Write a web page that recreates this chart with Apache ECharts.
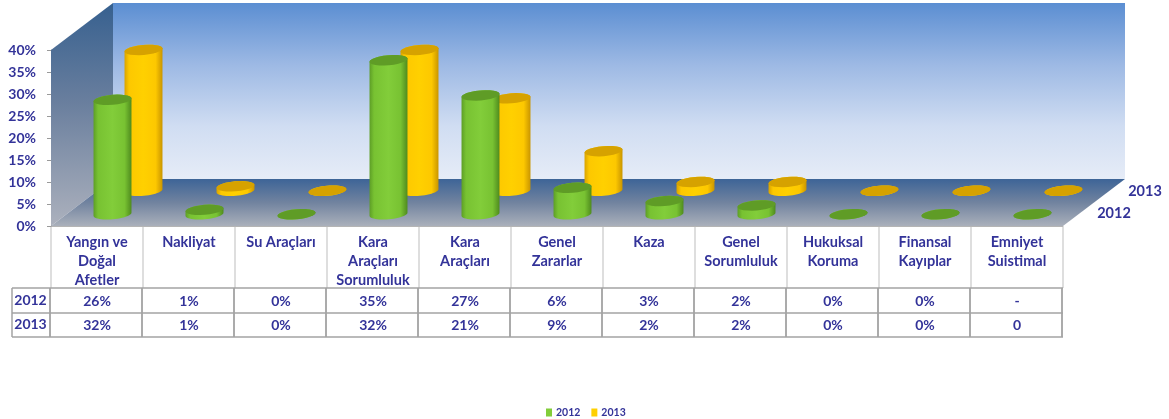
<!DOCTYPE html>
<html>
<head>
<meta charset="utf-8">
<style>
    html, body { margin: 0; padding: 0; background: #fff; }
    #chart { width: 1169px; height: 419px; }
</style>
<script src="https://cdn.jsdelivr.net/npm/echarts@6/dist/echarts.min.js"></script>
</head>
<body>
<div id="chart"></div>
<script>
    const categories = ['Yangın ve\nDoğal\nAfetler', 'Nakliyat', 'Su Araçları', 'Kara\nAraçları\nSorumluluk', 'Kara\nAraçları',
        'Genel\nZararlar', 'Kaza', 'Genel\nSorumluluk', 'Hukuksal\nKoruma', 'Finansal\nKayıplar', 'Emniyet\nSuistimal'];
    const values2012 = [26, 1, 0, 35, 27, 6, 3, 2, 0, 0, 0];
    const values2013 = [32, 1, 0, 32, 21, 9, 2, 2, 0, 0, 0];
    const table2012 = ['26%', '1%', '0%', '35%', '27%', '6%', '3%', '2%', '0%', '0%', '-'];
    const table2013 = ['32%', '1%', '0%', '32%', '21%', '9%', '2%', '2%', '0%', '0%', '0'];

    const FONT = 'Lato';
    const TEXT = '#333399';
    const DEPTH_X = 62, DEPTH_Y = 47;
    const grid = { left: 51, top: 50, width: 1012, height: 176 };

    function vertical(stops) {
        return new echarts.graphic.LinearGradient(0, 0, 0, 1, stops.map((c, i) => ({ offset: c[0], color: c[1] })));
    }

    // points of a tilted ellipse between two angles
    function arc(cx, cy, rx, ry, from, to) {
        const tilt = -5 * Math.PI / 180, pts = [];
        for (let i = 0; i <= 24; i++) {
            const t = from + (to - from) * i / 24;
            const x = rx * Math.cos(t), y = ry * Math.sin(t);
            pts.push([cx + x * Math.cos(tilt) - y * Math.sin(tilt), cy + x * Math.sin(tilt) + y * Math.cos(tilt)]);
        }
        return pts;
    }

    function cylinderSeries(name, data, depth, side, top) {
        return {
            name: name,
            type: 'custom',
            z: depth < 0.5 ? 4 : 3,
            itemStyle: { color: side[2] },
            data: data.map((v, i) => [i, v]),
            encode: { x: 0, y: 1 },
            renderItem(params, api) {
                const base = api.coord([api.value(0), 0]);
                const head = api.coord([api.value(0), api.value(1)]);
                const dx = DEPTH_X * depth, dy = DEPTH_Y * depth;
                const rx = api.size([1, 0])[0] * 0.207, ry = 5;
                const cx = base[0] + dx, by = base[1] - dy, ty = head[1] - dy;
                const body = arc(cx, by, rx, ry, 0, Math.PI).concat(arc(cx, ty, rx, ry, Math.PI, 2 * Math.PI));
                const fill = new echarts.graphic.LinearGradient(0, 0, 1, 0, [
                    { offset: 0, color: side[0] }, { offset: 0.12, color: side[1] }, { offset: 0.5, color: side[2] },
                    { offset: 0.82, color: side[1] }, { offset: 1, color: side[3] }
                ]);
                return {
                    type: 'group',
                    children: [
                        { type: 'polygon', shape: { points: body }, style: { fill: fill } },
                        { type: 'polygon', shape: { points: arc(cx, ty, rx, ry, 0, 2 * Math.PI) }, style: { fill: top } }
                    ]
                };
            }
        };
    }

    const wallSeries = {
        type: 'custom',
        z: 1,
        silent: true,
        data: [[0, 0]],
        encode: { x: 0, y: 1 },
        renderItem(params) {
            const c = params.coordSys;
            const l = c.x, r = c.x + c.width, t = c.y, b = c.y + c.height;
            return {
                type: 'group',
                children: [
                    { type: 'polygon', shape: { points: [[l + DEPTH_X, t - DEPTH_Y], [r + DEPTH_X, t - DEPTH_Y], [r + DEPTH_X, b - DEPTH_Y], [l + DEPTH_X, b - DEPTH_Y]] },
                        style: { fill: vertical([[0, '#5b8ed2'], [0.35, '#9db9e4'], [0.7, '#d0ddf2'], [1, '#e6ecf7']]) } },
                    { type: 'polygon', shape: { points: [[l, t], [l + DEPTH_X, t - DEPTH_Y], [l + DEPTH_X, b - DEPTH_Y], [l, b]] },
                        style: { fill: vertical([[0, '#36608f'], [0.45, '#6a7f9e'], [1, '#acb1bd']]) } },
                    { type: 'polygon', shape: { points: [[l, b], [l + DEPTH_X, b - DEPTH_Y], [r + DEPTH_X, b - DEPTH_Y], [r, b]] },
                        style: { fill: vertical([[0, '#3d6497'], [0.5, '#71839f'], [1, '#aab0bb']]) } }
                ]
            };
        }
    };

    // data table under the plot
    function tableGraphics() {
        const items = [];
        const colW = grid.width / categories.length;
        const line = (x1, y1, x2, y2, color, w) => items.push({
            type: 'line', shape: { x1, y1, x2, y2 }, style: { stroke: color, lineWidth: w }
        });
        const label = (x, y, text) => items.push({
            type: 'text', x: x, y: y,
            style: { text: text, fill: TEXT, font: 'bold 14px ' + FONT, align: 'center', verticalAlign: 'middle' }
        });
        for (let i = 0; i <= categories.length; i++) {
            const x = grid.left + colW * i;
            line(x, 226, x, 288, '#bdbdbd', 1);
            line(x - 1, 288, x - 1, 337, '#8f8f8f', 1.5);
        }
        line(grid.left, 226.5, grid.left + grid.width, 226.5, '#b5b5b5', 1);
        [288, 313, 337].forEach(y => line(12, y, grid.left + grid.width, y, '#a3a3a3', 1.5));
        line(12, 288, 12, 337, '#a3a3a3', 1.5);
        [[table2012, 2012, 301], [table2013, 2013, 325]].forEach(row => {
            label(30.5, row[2] - 1, String(row[1]));
            row[0].forEach((t, i) => label(grid.left + colW * (i + 0.5), row[2], t));
        });
        return items;
    }

    function depthLabels() {
        return [[1145, 191, '2013'], [1114, 213, '2012']].map(d => ({
            type: 'text', x: d[0], y: d[1],
            style: { text: d[2], fill: TEXT, font: 'bold 14.5px ' + FONT, align: 'center', verticalAlign: 'middle' }
        }));
    }

    const myChart = echarts.init(document.getElementById('chart'));
    myChart.setOption({
        animation: false,
        grid: grid,
        legend: {
            data: ['2012', '2013'],
            left: 541,
            top: 402,
            itemWidth: 6,
            itemHeight: 8,
            itemGap: 11,
            icon: 'rect',
            textStyle: { color: TEXT, fontFamily: FONT, fontWeight: 'bold', fontSize: 10.5, padding: [0, 0, 0, -1] }
        },
        xAxis: {
            type: 'category',
            data: categories,
            axisLine: { show: false },
            axisTick: { show: false },
            axisLabel: {
                interval: 0,
                margin: 7,
                color: TEXT,
                fontFamily: FONT,
                fontWeight: 'bold',
                fontSize: 14.5,
                lineHeight: 19,
                verticalAlign: 'top'
            }
        },
        yAxis: {
            type: 'value',
            min: 0,
            max: 40,
            interval: 5,
            splitLine: { show: false },
            axisLine: { show: true, lineStyle: { color: '#9a9a9a' } },
            axisTick: { show: true, length: 4, lineStyle: { color: '#9a9a9a' } },
            axisLabel: {
                margin: 15,
                padding: [3, 0, 0, 0],
                color: TEXT,
                fontFamily: FONT,
                fontWeight: 'bold',
                fontSize: 14,
                formatter: '{value}%'
            }
        },
        graphic: tableGraphics().concat(depthLabels()),
        series: [
            wallSeries,
            cylinderSeries('2013', values2013, 0.75, ['#d9a300', '#fdc800', '#ffd000', '#c99500'], '#d6a200'),
            cylinderSeries('2012', values2012, 0.25, ['#5d9e26', '#78c232', '#82cd3a', '#4f8b1e'], '#5f9c26')
        ]
    });
</script>
</body>
</html>
